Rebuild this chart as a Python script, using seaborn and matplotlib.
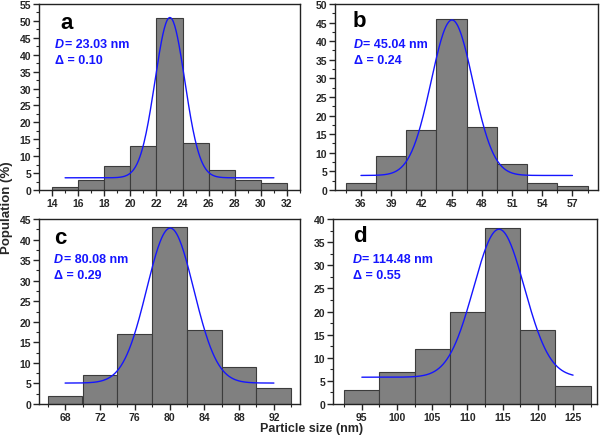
import numpy as np
import pandas as pd
import matplotlib
matplotlib.use("Agg")
import matplotlib.pyplot as plt
from matplotlib.ticker import MultipleLocator, AutoMinorLocator
import seaborn as sns

# ---- data ----
panel_letters = ["a", "b", "c", "d"]
diam_labels = ["23.03", "45.04", "80.08", "114.48"]
delta_labels = ["0.10", "0.24", "0.29", "0.55"]

bin_start = [14, 34.5, 66, 92.5]
bin_width = [2, 3, 4, 5]
pop_a = [1, 3, 7, 13, 51, 14, 6, 3, 2]
pop_b = [2, 9, 16, 46, 17, 7, 2, 1]
pop_c = [2, 7, 17, 43, 18, 9, 4]
pop_d = [3, 7, 12, 20, 38, 16, 4]
populations = [pop_a, pop_b, pop_c, pop_d]

# Gaussian fit parameters
fit_center = [23.03, 45.04, 80.08, 114.48]
fit_sigma = [1.14, 2.07, 2.7, 3.6]
fit_peak = [51.0, 45.7, 42.8, 37.8]
fit_base = [3.6, 3.9, 5.1, 5.8]
fit_start = [15, 36, 68, 95]
fit_end = [31, 57, 92, 125]

x_ticks_step = [2, 3, 4, 5]
x_ticks_first = [14, 36, 68, 95]
x_ticks_last = [32, 57, 92, 125]
y_max = [55, 50, 45, 40]
x_lims = [(13, 33), (33.4, 59.5), (65, 95), (90.9, 128.4)]

# ---- style ----
sns.set_style("ticks")
plt.rcParams["font.family"] = ["Liberation Sans", "DejaVu Sans"]
plt.rcParams["font.weight"] = "bold"
plt.rcParams["axes.linewidth"] = 1.0

fig = plt.figure(figsize=(6.0, 4.39), dpi=100)
positions = [
    [0.065, 0.565, 0.435, 0.4236],
    [0.558, 0.565, 0.438, 0.4236],
    [0.065, 0.0774, 0.435, 0.4214],
    [0.555, 0.0774, 0.440, 0.4214],
]
letter_pos = [(0.08, 0.903), (0.069, 0.91), (0.058, 0.90), (0.076, 0.91)]
text_x = [0.061, 0.072, 0.058, 0.075]

blue = "#1515ff"

for i in range(4):
    ax = fig.add_axes(positions[i])
    vals = populations[i]
    n = len(vals)
    edges = [bin_start[i] + k * bin_width[i] for k in range(n + 1)]
    centers = [bin_start[i] + (k + 0.5) * bin_width[i] for k in range(n)]
    df = pd.DataFrame({"size": centers, "pop": vals})
    sns.histplot(data=df, x="size", weights="pop", bins=edges, stat="count",
                 color="#808080", alpha=1.0, edgecolor="#3c3c3c", linewidth=0.8,
                 ax=ax)

    xs = np.linspace(fit_start[i], fit_end[i], 300)
    ys = fit_base[i] + (fit_peak[i] - fit_base[i]) * np.exp(
        -((xs - fit_center[i]) ** 2) / (2 * fit_sigma[i] ** 2))
    sns.lineplot(x=xs, y=ys, color=blue, linewidth=1.0, ax=ax)

    ax.set_xlim(*x_lims[i])
    ax.set_ylim(0, y_max[i])
    ax.set_xticks(np.arange(x_ticks_first[i], x_ticks_last[i] + 0.1, x_ticks_step[i]))
    ax.yaxis.set_major_locator(MultipleLocator(5))
    ax.xaxis.set_minor_locator(AutoMinorLocator(2))
    ax.yaxis.set_minor_locator(AutoMinorLocator(2))
    ax.tick_params(which="major", direction="out", length=4, width=1,
                   labelsize=7.5, pad=1.5, top=False, right=False)
    ax.tick_params(which="minor", direction="out", length=2, width=0.8,
                   top=False, right=False)
    for lab in ax.get_xticklabels() + ax.get_yticklabels():
        lab.set_fontweight("bold")
    for sp in ax.spines.values():
        sp.set_visible(True)
        sp.set_color("#222222")
    ax.set_xlabel("")
    ax.set_ylabel("")

    ax.text(letter_pos[i][0], letter_pos[i][1], panel_letters[i],
            transform=ax.transAxes, fontsize=16, fontweight="bold",
            ha="left", va="center", color="black")
    t = ax.text(text_x[i], 0.785, "D", transform=ax.transAxes, fontsize=9,
                fontweight="bold", fontstyle="italic", color=blue,
                ha="left", va="center")
    ax.annotate("= " + diam_labels[i] + " nm", xy=(1, 0.5), xycoords=t,
                xytext=(0.5, 0), textcoords="offset points",
                fontsize=9, fontweight="bold", color=blue,
                ha="left", va="center")
    ax.text(text_x[i], 0.70, "\u0394 = " + delta_labels[i], transform=ax.transAxes,
            fontsize=9, fontweight="bold", color=blue, ha="left", va="center")

fig.text(0.011, 0.527, "Population (%)", rotation=90, ha="center", va="center",
         fontsize=9.5, fontweight="bold")
fig.text(0.52, 0.0225, "Particle size (nm)", ha="center", va="center",
         fontsize=9, fontweight="bold")

fig.savefig("out.png", dpi=100)
